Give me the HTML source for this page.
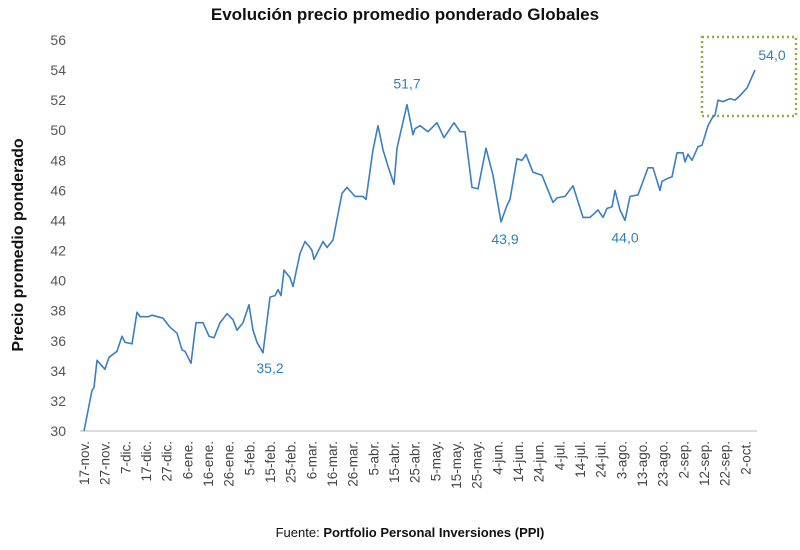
<!DOCTYPE html>
<html><head><meta charset="utf-8"><style>
body{margin:0;background:#fff;}
svg{display:block;font-family:"Liberation Sans",sans-serif;}
</style></head><body>
<svg id="chart" width="800" height="550">
<text x="405" y="20" text-anchor="middle" font-size="17" font-weight="bold" fill="#111">Evolución precio promedio ponderado Globales</text>
<text transform="translate(23,245) rotate(-90)" text-anchor="middle" font-size="16" font-weight="bold" fill="#111">Precio promedio ponderado</text>
<text x="410" y="537" text-anchor="middle" font-size="13" fill="#111">Fuente: <tspan font-weight="bold">Portfolio Personal Inversiones (PPI)</tspan></text>
<rect x="702" y="37" width="94" height="79" fill="none" stroke="#8cb43a" stroke-width="2.5" stroke-dasharray="2,3"/>
<g id="axes"></g>
<g id="marks"></g>
</svg>
<script>
const days=[0,4,5,6.5,10.5,12.5,16.5,19,20.5,24,26.5,28,32,34,39.5,43,46.5,49,50.5,53.5,56,59.5,62.5,65,68,71.5,74.5,76.5,79.5,82.5,84.5,86.5,89.5,93,95.5,97,98.5,100,103,104.5,108,110.5,113,114,115,119.5,121.5,124.5,129,131.5,135.5,139.5,141,144.5,147,149.5,152,155,156.5,161.5,164.5,165.5,168,172,176.5,180,185,188,190.5,194,197,201,204.5,208.5,211.5,213,216.5,219,221,223,224.5,229,234.5,236.5,240.5,244.5,249.5,253,257,259.5,261.5,264,265.5,268,270.5,273,277,282,284.5,288,289,292,294,296.5,299.5,300.5,302,304,307,309,312,314,315.5,317,319.5,323,325.5,328,331.5,335.5];
const values=[30.0,32.7,32.9,34.7,34.1,34.9,35.3,36.3,35.9,35.8,37.9,37.6,37.6,37.7,37.5,36.9,36.5,35.4,35.3,34.5,37.2,37.2,36.3,36.2,37.2,37.8,37.4,36.7,37.2,38.4,36.7,35.9,35.2,38.9,39.0,39.4,39.0,40.7,40.2,39.6,41.8,42.6,42.2,42.0,41.4,42.6,42.2,42.7,45.8,46.2,45.6,45.6,45.4,48.7,50.3,48.7,47.6,46.4,48.8,51.7,49.7,50.1,50.3,49.9,50.5,49.5,50.5,49.9,49.9,46.2,46.1,48.8,47.0,43.9,45.0,45.4,48.1,48.0,48.4,47.7,47.2,47.0,45.2,45.5,45.6,46.3,44.2,44.2,44.7,44.2,44.8,44.9,46.0,44.7,44.0,45.6,45.7,47.5,47.5,46.0,46.6,46.8,46.9,48.5,48.5,47.9,48.4,48.0,48.9,49.0,50.3,50.8,51.0,52.0,51.9,52.1,52.0,52.3,52.8,54.0];
const yTicks=[30,32,34,36,38,40,42,44,46,48,50,52,54,56];
const xLabels=["17-nov.","27-nov.","7-dic.","17-dic.","27-dic.","6-ene.","16-ene.","26-ene.","5-feb.","15-feb.","25-feb.","6-mar.","16-mar.","26-mar.","5-abr.","15-abr.","25-abr.","5-may.","15-may.","25-may.","4-jun.","14-jun.","24-jun.","4-jul.","14-jul.","24-jul.","3-ago.","13-ago.","23-ago.","2-sep.","12-sep.","22-sep.","2-oct."];
const labelDays=[0,10.33,20.66,31,41.33,51.66,62,72.33,82.66,93,103.33,113.66,124,134.33,144.66,155,165.33,175.66,186,196.33,206.66,217,227.33,237.66,248,258.33,268.66,279,289.33,299.66,310,320.33,330.66];
const annotations=[{i:32,t:"35,2",dx:7,dy:20},{i:59,t:"51,7",dx:0,dy:-16},{i:73,t:"43,9",dx:4,dy:22},{i:94,t:"44,0",dx:0,dy:22},{i:119,t:"54,0",dx:17,dy:-10}];
const NS="http://www.w3.org/2000/svg";
const X=d=>84+d*2;
const Y=v=>431-(v-30)*15.04;
const axes=document.getElementById('axes'),marks=document.getElementById('marks');
function mk(tag,attrs,parent,txt){const e=document.createElementNS(NS,tag);for(const k in attrs)e.setAttribute(k,attrs[k]);if(txt!==undefined)e.textContent=txt;parent.appendChild(e);return e;}
const base=mk('line',{x1:80,x2:757,y1:Y(30),y2:Y(30),stroke:'#d0d0d0','stroke-width':1.5},axes);


yTicks.forEach(v=>{
  const t=mk('text',{x:66,y:Y(v)+5,'text-anchor':'end','font-size':14,fill:'#555'},axes,String(v));
  
  
});
xLabels.forEach((l,i)=>{
  const x=X(labelDays[i]);
  const t=mk('text',{transform:`translate(${x+5},${441}) rotate(-90)`,'text-anchor':'end','font-size':13.5,fill:'#444'},axes,l);
  
  
});
const pts=days.map((d,i)=>X(d).toFixed(1)+','+Y(values[i]).toFixed(1)).join(' ');
const line=mk('polyline',{points:pts,fill:'none',stroke:'#3a7fc0','stroke-width':1.6,'stroke-linejoin':'round'},marks);


annotations.forEach(a=>{
  const t=mk('text',{x:X(days[a.i])+a.dx,y:Y(values[a.i])+a.dy,'text-anchor':'middle','font-size':14,fill:'#2f80b8'},marks,a.t);
  
  
});
</script>
</body></html>
